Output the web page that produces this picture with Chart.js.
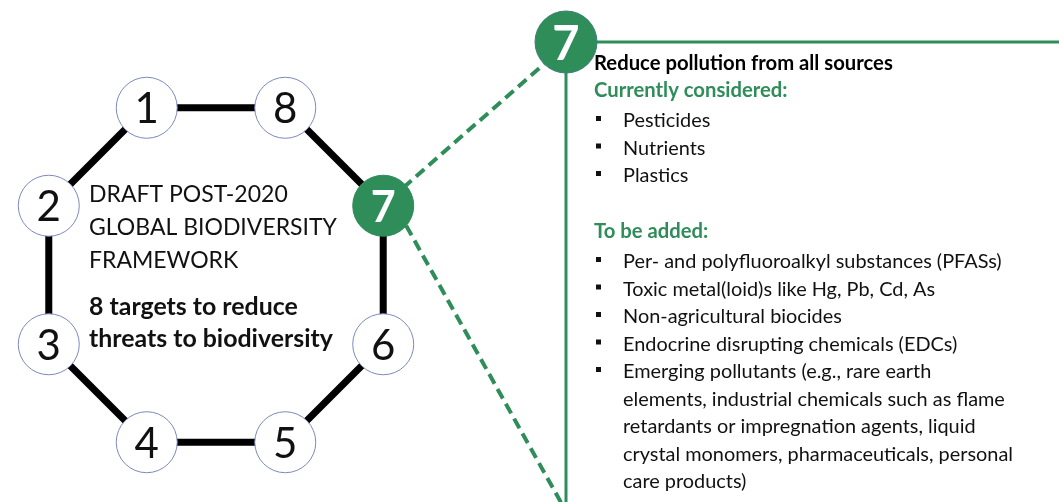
<!DOCTYPE html>
<html>
<head>
<meta charset="utf-8">
<script src="https://cdn.jsdelivr.net/npm/chart.js"></script>
<style>
  body { margin: 0; background: #fff; }
  #wrap { width: 1059px; height: 502px; }
</style>
</head>
<body>
<div id="wrap"><canvas id="diagram"></canvas></div>
<script>
// targets around the ring, clockwise starting top-left
const targets = ['1', '8', '7', '6', '5', '4', '3', '2'];
const highlighted = '7';

const centreTitle = ['DRAFT POST-2020', 'GLOBAL BIODIVERSITY', 'FRAMEWORK'];
const centreSubtitle = ['8 targets to reduce', 'threats to biodiversity'];

const panelTitle = 'Reduce pollution from all sources';
const consideredLabel = 'Currently considered:';
const considered = ['Pesticides', 'Nutrients', 'Plastics'];
const addedLabel = 'To be added:';
const added = [
  ['Per- and polyfluoroalkyl substances (PFASs)'],
  ['Toxic metal(loid)s like Hg, Pb, Cd, As'],
  ['Non-agricultural biocides'],
  ['Endocrine disrupting chemicals (EDCs)'],
  ['Emerging pollutants (e.g., rare earth',
   'elements, industrial chemicals such as flame',
   'retardants or impregnation agents, liquid',
   'crystal monomers, pharmaceuticals, personal',
   'care products)']
];

const GREEN = '#2f8d5a';
const FONT = 'Lato, "Open Sans", sans-serif';

// ring geometry (data units = pixels of the 1059x502 board)
const ring = { cx: 216, cy: 275, r: 181 };
const badge = { x: 566, y: 42 };   // the big "7" at the panel corner

const nodes = targets.map((t, i) => {
  const a = (112.5 - 45 * i) * Math.PI / 180;
  return { x: ring.cx + ring.r * Math.cos(a), y: ring.cy - ring.r * Math.sin(a), label: t };
});
const hi = nodes.find(n => n.label === highlighted);

// connectors from the highlighted node to the panel
const upperLink = [
  { x: hi.x + 20, y: hi.y - 18 },
  { x: badge.x - 22, y: badge.y + 22 }
];
const lowerLink = [
  { x: hi.x + 23, y: hi.y + 20 },
  { x: badge.x - 3, y: 506 }
];

function fitSize(ctx, text, weight, target) {
  ctx.font = weight + ' 100px ' + FONT;
  return 100 * target / ctx.measureText(text).width;
}

const textPlugin = {
  id: 'diagramText',
  afterDatasetsDraw(chart) {
    const ctx = chart.ctx;
    const sx = chart.scales.x, sy = chart.scales.y;
    ctx.save();

    // numbers inside the ring circles
    nodes.forEach(n => {
      const isHi = n.label === highlighted;
      ctx.font = (isHi ? 'bold 43px ' : '42px ') + FONT;
      ctx.fillStyle = isHi ? '#fff' : '#111';
      ctx.textAlign = 'center';
      ctx.textBaseline = 'alphabetic';
      const m = ctx.measureText(n.label);
      ctx.fillText(n.label, sx.getPixelForValue(n.x), sy.getPixelForValue(n.y) + m.actualBoundingBoxAscent / 2);
    });

    // badge number
    ctx.font = 'bold 47px ' + FONT;
    ctx.fillStyle = '#fff';
    const mb = ctx.measureText(highlighted);
    ctx.fillText(highlighted, sx.getPixelForValue(badge.x), sy.getPixelForValue(badge.y) + mb.actualBoundingBoxAscent / 2);

    // text in the middle of the ring
    ctx.textAlign = 'left';
    ctx.fillStyle = '#111';
    let fs = fitSize(ctx, centreTitle[1], 'normal', 248);
    ctx.font = fs + 'px ' + FONT;
    centreTitle.forEach((t, i) => ctx.fillText(t, 89, 202 + i * 33));
    fs = fitSize(ctx, centreSubtitle[1], 'bold', 244);
    ctx.font = 'bold ' + fs + 'px ' + FONT;
    centreSubtitle.forEach((t, i) => ctx.fillText(t, 89, 315 + i * 32));

    // panel text
    const tx = 594, bx = 596, ix = 623;
    const hs = fitSize(ctx, panelTitle, 'bold', 299);
    ctx.font = 'bold ' + hs + 'px ' + FONT;
    ctx.fillStyle = '#000';
    ctx.fillText(panelTitle, tx, 70);
    ctx.fillStyle = GREEN;
    ctx.fillText(consideredLabel, tx, 97);
    ctx.fillText(addedLabel, tx, 238);

    const is = fitSize(ctx, added[0][0], 'normal', 379);
    ctx.font = is + 'px ' + FONT;
    ctx.fillStyle = '#111';
    const item = (lines, y) => {
      ctx.fillRect(bx, y - 11, 5, 5);
      lines.forEach((l, k) => ctx.fillText(l, ix, y + k * 27.5));
      return y + lines.length * 27.5;
    };
    let y = 127;
    considered.forEach(c => { y = item([c], y); });
    y = 268;
    added.forEach(a => { y = item(a, y); });

    ctx.restore();
  }
};

new Chart(document.getElementById('diagram'), {
  type: 'scatter',
  data: {
    datasets: [
      {
        // target circles
        data: nodes,
        pointRadius: 30.5,
        pointHoverRadius: 30.5,
        pointBackgroundColor: nodes.map(n => n.label === highlighted ? GREEN : '#fff'),
        pointBorderColor: nodes.map(n => n.label === highlighted ? GREEN : '#7b89bd'),
        pointBorderWidth: 1,
        order: 0
      },
      {
        // badge at panel corner
        data: [badge],
        pointRadius: 31,
        pointBackgroundColor: GREEN,
        pointBorderColor: '#3f7f78',
        pointBorderWidth: 1,
        order: 1
      },
      {
        // black ring
        type: 'line',
        data: nodes.concat([nodes[0]]),
        borderColor: '#000',
        borderWidth: 7,
        pointRadius: 0,
        tension: 0,
        order: 5
      },
      {
        // panel frame
        type: 'line',
        data: [{ x: 1062, y: badge.y }, badge, { x: badge.x, y: 505 }],
        borderColor: GREEN,
        borderWidth: 3,
        pointRadius: 0,
        order: 5
      },
      {
        type: 'line',
        data: upperLink,
        borderColor: GREEN,
        borderWidth: 4,
        borderDash: [11, 6],
        pointRadius: 0,
        order: 5
      },
      {
        type: 'line',
        data: lowerLink,
        borderColor: GREEN,
        borderWidth: 4,
        borderDash: [11, 6],
        pointRadius: 0,
        order: 5
      }
    ]
  },
  options: {
    responsive: true,
    maintainAspectRatio: false,
    animation: false,
    clip: false,
    layout: { padding: 0, autoPadding: false },
    scales: {
      x: { type: 'linear', min: 0, max: 1059, display: false },
      y: { type: 'linear', min: 0, max: 502, reverse: true, display: false }
    },
    plugins: {
      legend: { display: false },
      tooltip: { enabled: false }
    }
  },
  plugins: [textPlugin]
});
</script>
</body>
</html>
